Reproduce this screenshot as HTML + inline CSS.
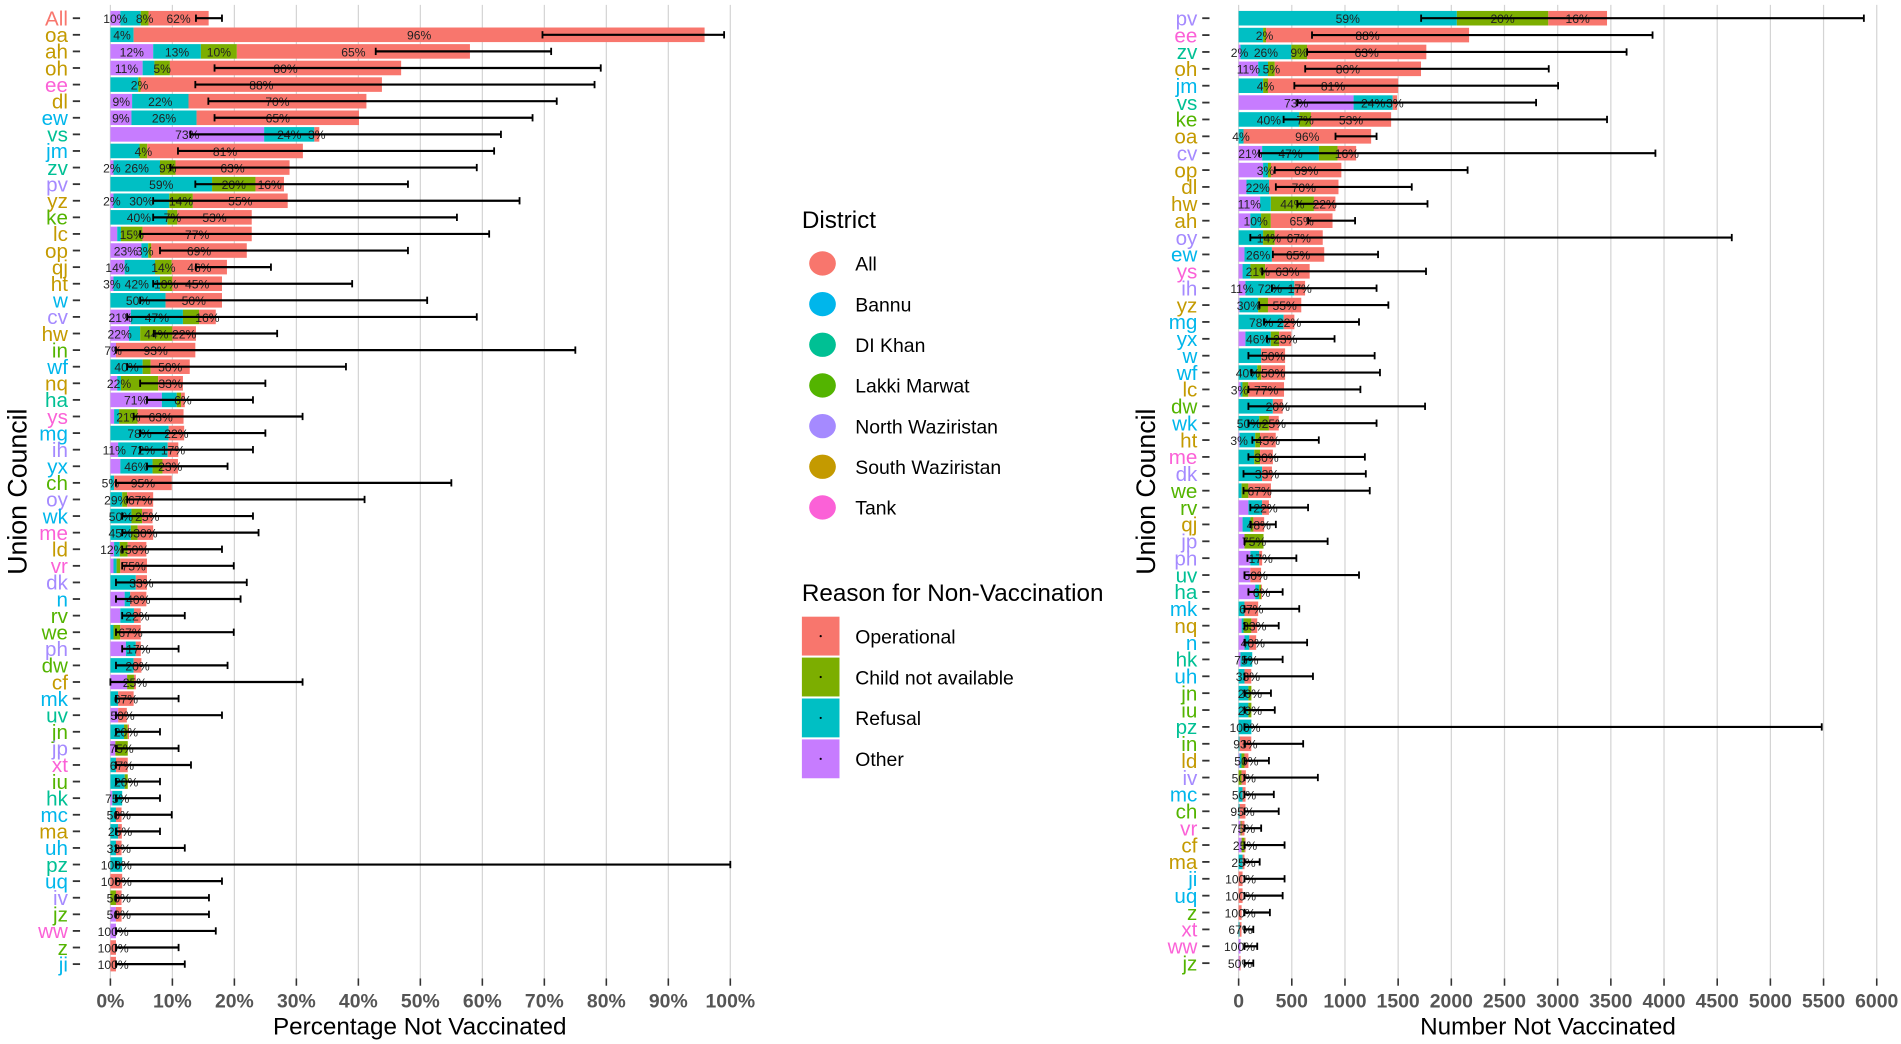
<!DOCTYPE html>
<html><head><meta charset="utf-8"><title>Non-Vaccination by Union Council</title>
<style>
html,body{margin:0;padding:0;background:#fff;}
svg{display:block;font-family:"Liberation Sans",sans-serif;}
</style></head>
<body>
<svg id="chart" width="1901" height="1044" viewBox="0 0 1567 860" preserveAspectRatio="none" xmlns="http://www.w3.org/2000/svg">
<g id="left"></g>
<g id="right"></g>
<g id="legend"></g>
</svg>
<script>
// ---------- LEFT PANEL DATA (percentage not vaccinated, segments in percentage points) ----------
const leftNames=["All","oa","ah","oh","ee","dl","ew","vs","jm","zv","pv","yz","ke","lc","op","qj","ht","w","cv","hw","in","wf","nq","ha","ys","mg","ih","yx","ch","oy","wk","me","ld","vr","dk","n","rv","we","ph","dw","cf","mk","uv","jn","jp","xt","iu","hk","mc","ma","uh","pz","uq","iv","jz","ww","z","ji"];
const leftDistrict=["A","S","S","S","T","S","B","D","B","D","N","S","L","S","S","S","S","B","N","S","L","B","S","D","T","B","N","B","L","N","B","T","S","T","N","B","L","L","N","L","S","B","D","L","N","T","L","D","B","S","B","D","B","N","L","T","L","B"];
const leftOther=[1.6,0,6.9,5.2,0,3.5,3.4,24.8,0,0.5,0,0.5,0,1.1,5.0,2.3,0.5,0,3.3,3.0,0.9,0,1.1,8.3,0.6,0,1.25,1.6,0,0,0,0,0.6,0.5,0,2.3,1.6,0,2.5,0,2.7,0,1.25,0,0.8,0,0,0.3,0,0,0,0,0,0,0.9,0.9,0,0];
const leftRefusal=[3.3,3.75,7.7,1.9,4.5,9.1,10.5,8.1,4.7,7.5,16.4,9.0,9.2,0.6,1.1,4.9,7.5,8.9,8.4,1.8,0,5.2,0.6,2.4,0.8,9.4,8.0,5.2,0.6,1.9,3.4,3.3,0.9,0.5,4.1,0.9,2.2,0.5,1.6,3.75,0,1.25,0,2.2,0,0.9,2.3,1.6,0.9,1.25,0.9,1.9,0,0,0,0,0,0];
const leftChild=[1.25,0,5.8,2.5,0.4,0,0,0,1.25,2.5,7.0,3.8,1.6,3.5,0.5,2.7,2.0,0,2.6,5.2,0,1.3,6.0,0.7,3.0,0,0,1.6,0,0.8,1.7,1.1,1.3,0.6,0,0,0,1.1,0,0,1.1,0,0,0.6,2.0,0,0.5,0,0,0,0,0,0,0.9,0,0,0,0];
const leftOper=[9.7,92.1,37.6,37.3,38.9,28.7,26.2,0.8,25.1,18.4,4.6,15.3,12.0,17.6,15.4,8.9,8.0,9.1,2.7,3.8,12.8,6.3,4.0,0.6,7.4,2.5,1.7,2.5,9.3,4.2,1.7,2.5,3.0,4.3,1.8,2.6,1.1,3.3,0.8,1.25,0.3,2.5,1.4,0.2,0,1.9,0,0,0.9,0.6,0.9,0,1.9,0.9,0.9,0,0.9,0.9];
const leftErrLo=[13.8,69.7,42.8,16.8,13.7,15.8,16.8,12.9,10.9,9.7,13.7,6.9,6.9,4.8,8.0,13.8,6.9,4.8,2.7,7.0,0.9,2.7,4.8,5.9,3.75,4.8,4.8,5.9,0.9,2.7,1.9,1.9,1.9,1.9,0.9,0.9,1.9,0.9,1.9,0.9,0,0.9,0.9,0.9,0.9,0.9,0.9,0.9,0.9,0.9,0.9,0.9,0.9,0.9,0.9,0.9,0.9,0.9];
const leftErrHi=[18.0,99.0,71.1,79.1,78.1,72.0,68.1,63.0,61.9,59.1,48.0,66.0,55.9,61.1,48.0,25.9,39.0,51.1,59.1,26.9,75.0,38.0,25.0,23.0,31.0,25.0,23.0,18.9,55.0,41.0,23.0,23.9,18.0,19.9,22.0,21.0,12.0,19.9,11.0,18.9,31.0,11.0,18.0,8.0,11.0,13.0,8.0,8.0,9.9,8.0,12.0,100,18.0,15.9,15.9,17.0,11.0,12.0];
const leftLabels=[["10%","","8%","62%"],["","4%","","96%"],["12%","13%","10%","65%"],["11%","","5%","80%"],["","","2%","88%"],["9%","22%","","70%"],["9%","26%","","65%"],["73%","24%","","3%"],["","","4%","81%"],["2%","26%","9%","63%"],["","59%","20%","16%"],["2%","30%","14%","55%"],["","40%","7%","53%"],["","","15%","77%"],["23%","3%","","69%"],["14%","","14%","46%"],["3%","42%","10%","45%"],["","50%","","50%"],["21%","47%","","16%"],["22%","","44%","22%"],["7%","","","93%"],["","40%","","50%"],["","22%","","33%"],["71%","","","6%"],["","","21%","63%"],["","78%","","22%"],["11%","72%","","17%"],["","46%","","23%"],["5%","","","95%"],["","29%","","67%"],["","50%","","25%"],["","45%","","30%"],["12%","","","50%"],["","","","75%"],["","","","33%"],["","","","40%"],["","","","22%"],["","","","67%"],["","","","17%"],["","","","20%"],["","","","25%"],["","","","67%"],["","","","50%"],["","","20%",""],["","","75%",""],["","","","67%"],["","","20%",""],["","75%","",""],["","","","50%"],["","","","25%"],["","","","33%"],["","100%","",""],["","","","100%"],["","","","50%"],["","","","50%"],["100%","","",""],["","","","100%"],["","","","100%"]];
const leftTicks=["0%","10%","20%","30%","40%","50%","60%","70%","80%","90%","100%"];
const leftTickVals=[0,10,20,30,40,50,60,70,80,90,100];

// ---------- RIGHT PANEL DATA (number not vaccinated) ----------
const rightNames=["pv","ee","zv","oh","jm","vs","ke","oa","cv","op","dl","hw","ah","oy","ew","ys","ih","yz","mg","yx","w","wf","lc","dw","wk","ht","me","dk","we","rv","qj","jp","ph","uv","ha","mk","nq","n","hk","uh","jn","iu","pz","in","ld","iv","mc","ch","vr","cf","ma","ji","uq","z","xt","ww","jz"];
const rightDistrict=["N","T","D","S","B","D","L","S","N","S","S","S","S","N","B","T","N","S","B","B","B","B","S","L","B","S","T","N","L","L","S","N","N","D","D","B","S","B","D","B","L","L","D","L","S","N","B","L","T","S","S","B","B","L","T","T","L"];
const rightOther=[0,0,18,184,0,1081,0,0,221,230,74,202,110,0,55,37,64,9,0,64,0,0,18,0,0,9,0,0,0,92,37,55,110,110,156,0,28,55,18,0,0,0,0,0,9,0,0,0,18,28,0,0,0,0,0,18,9];
const rightRefusal=[2052,230,478,92,230,368,570,46,534,46,212,101,101,230,258,74,460,175,423,239,212,175,18,322,193,147,147,221,28,129,74,0,83,0,37,55,18,46,110,55,92,92,120,9,18,0,37,9,0,0,37,0,0,0,9,0,0];
const rightChild=[860,28,147,64,46,0,110,0,175,28,0,405,92,110,0,138,0,92,0,78,0,37,55,0,92,46,55,0,64,0,28,179,0,0,18,0,74,0,0,0,28,28,0,0,28,28,0,0,9,28,0,0,0,0,0,0,0];
const rightOper=[552,1909,1122,1375,1224,41,754,1200,175,662,653,202,580,451,492,419,101,313,101,115,225,225,336,92,92,147,120,92,212,64,101,0,28,101,9,129,55,64,0,64,0,0,0,110,37,40,28,55,28,9,18,37,37,28,18,0,9];
const rightErrLo=[1716,690,644,626,524,552,423,911,193,340,350,552,653,110,322,221,313,193,239,267,92,120,92,92,92,129,92,46,46,110,110,55,83,55,92,55,55,55,55,55,55,55,55,55,55,55,55,55,55,55,55,55,55,55,55,55,55];
const rightErrHi=[5879,3892,3648,2916,3004,2797,3464,1297,3919,2153,1628,1776,1095,4637,1311,1762,1297,1408,1132,902,1279,1329,1145,1753,1297,754,1187,1196,1233,653,350,837,543,1132,414,570,377,644,414,699,304,340,5483,607,285,745,331,377,212,432,198,432,414,294,138,175,138];
const rightLabels=[["","59%","20%","16%"],["","","2%","88%"],["2%","26%","9%","63%"],["11%","","5%","80%"],["","","4%","81%"],["73%","24%","","3%"],["","40%","7%","53%"],["","4%","","96%"],["21%","47%","","16%"],["","3%","","69%"],["","22%","","70%"],["11%","","44%","22%"],["","10%","","65%"],["","","14%","67%"],["","26%","","65%"],["","","21%","63%"],["11%","72%","","17%"],["","30%","","55%"],["","78%","","22%"],["","46%","","23%"],["","","","50%"],["","40%","","50%"],["3%","","","77%"],["","","","20%"],["","50%","","25%"],["3%","","","45%"],["","","","30%"],["","","","33%"],["","","","67%"],["","","","22%"],["","","","48%"],["","","75%",""],["","","","17%"],["","","","50%"],["","","","6%"],["","","","67%"],["","","","33%"],["","","","40%"],["","75%","",""],["","","","33%"],["","","20%",""],["","","20%",""],["","100%","",""],["","","","93%"],["","","","50%"],["","","","50%"],["","","","50%"],["","","","95%"],["","","","75%"],["","","","25%"],["","","","25%"],["","","","100%"],["","","","100%"],["","","","100%"],["","","","67%"],["100%","","",""],["","","","50%"]];
const rightTicks=["0","500","1000","1500","2000","2500","3000","3500","4000","4500","5000","5500","6000"];
const rightTickVals=[0,500,1000,1500,2000,2500,3000,3500,4000,4500,5000,5500,6000];

const distColors={A:"#F8766D",B:"#00B6EB",D:"#00C094",L:"#53B400",N:"#A58AFF",S:"#C49A00",T:"#FB61D7"};
const reasonColors=["#C77CFF","#00BFC4","#7CAE00","#F8766D"]; // other, refusal, child, operational
const reasonNames=["other","refusal","child","operational"];
const NS="http://www.w3.org/2000/svg";
function mk(tag,attrs,parent){const e=document.createElementNS(NS,tag);for(const k in attrs)e.setAttribute(k,attrs[k]);if(parent)parent.appendChild(e);return e;}

function drawPanel(g,cfg){
  const xs=v=>cfg.x0+(v-cfg.min)/(cfg.max-cfg.min)*(cfg.x1-cfg.x0);
  const ys=i=>cfg.yTop+i*cfg.step;
  // gridlines
  cfg.tickVals.forEach((v,k)=>{
    const l=mk("line",{x1:xs(v),x2:xs(v),y1:cfg.plotTop,y2:cfg.plotBottom,stroke:"#d4d4d4","stroke-width":1},g);
    
    
    const t=mk("line",{x1:xs(v),x2:xs(v),y1:cfg.plotBottom,y2:cfg.plotBottom+6,stroke:"#333","stroke-width":1.3},g);
    
    
    const tx=mk("text",{x:xs(v),y:cfg.plotBottom+24,"text-anchor":"middle","font-size":16,"font-weight":"bold",fill:"#555"},g);
    tx.textContent=cfg.ticks[k];
    
    
  });
  cfg.names.forEach((nm,i)=>{
    const y=ys(i);
    const lab=mk("text",{x:cfg.labelX,y:y+6,"text-anchor":"end","font-size":17,fill:distColors[cfg.dist[i]]},g);
    lab.textContent=nm;
    
    
    const tk=mk("line",{x1:cfg.labelX+4,x2:cfg.labelX+10,y1:y,y2:y,stroke:"#333","stroke-width":1.5},g);
    
    
    const segs=[cfg.other[i],cfg.refusal[i],cfg.child[i],cfg.oper[i]];
    let acc=0;
    const pos=[];
    segs.forEach((s,k)=>{
      const xa=xs(acc),xb=xs(acc+s);
      pos.push((xa+xb)/2);
      if(s>0){
        const r=mk("rect",{x:xa,y:y-6,width:Math.max(0,xb-xa),height:12,fill:reasonColors[k]},g);
        
        
      }
      acc+=s;
    });
    // labels
    cfg.labels[i].forEach((t,k)=>{
      if(!t)return;
      const tt=mk("text",{x:pos[k],y:y+4,"text-anchor":"middle","font-size":10,fill:"#222"},g);
      tt.textContent=t;
      
      
    });
    // error bar
    const xl=xs(cfg.lo[i]),xh=xs(cfg.hi[i]);
    const eg=mk("g",{},g);
    
    
    mk("line",{x1:xl,x2:xh,y1:y,y2:y,stroke:"#000","stroke-width":1.8},eg);
    mk("line",{x1:xl,x2:xl,y1:y-3,y2:y+3,stroke:"#000","stroke-width":1.5},eg);
    mk("line",{x1:xh,x2:xh,y1:y-3,y2:y+3,stroke:"#000","stroke-width":1.5},eg);
  });
  const xt=mk("text",{x:cfg.titleX,y:852,"text-anchor":"middle","font-size":20,fill:"#000"},g);
  xt.textContent=cfg.xTitle;
  
  
  const yt=mk("text",{x:0,y:0,"text-anchor":"middle","font-size":22,fill:"#000",transform:"translate("+cfg.yTitleX+",405) rotate(-90)"},g);
  yt.textContent="Union Council";
  
  
}

drawPanel(document.getElementById("left"),{names:leftNames,dist:leftDistrict,other:leftOther,refusal:leftRefusal,child:leftChild,oper:leftOper,lo:leftErrLo,hi:leftErrHi,labels:leftLabels,ticks:leftTicks,tickVals:leftTickVals,min:0,max:100,x0:91,x1:602,yTop:15,step:13.67,plotTop:4,plotBottom:806,labelX:56,titleX:346,yTitleX:22,xTitle:"Percentage Not Vaccinated"});
drawPanel(document.getElementById("right"),{names:rightNames,dist:rightDistrict,other:rightOther,refusal:rightRefusal,child:rightChild,oper:rightOper,lo:rightErrLo,hi:rightErrHi,labels:rightLabels,ticks:rightTicks,tickVals:rightTickVals,min:0,max:6000,x0:1021,x1:1547,yTop:15,step:13.9,plotTop:4,plotBottom:806,labelX:987,titleX:1276,yTitleX:952,xTitle:"Number Not Vaccinated"});

// ---------- LEGEND ----------
const districtNames=["All","Bannu","DI Khan","Lakki Marwat","North Waziristan","South Waziristan","Tank"];
const districtKeys=["A","B","D","L","N","S","T"];
const reasonLegend=["Operational","Child not available","Refusal","Other"];
const reasonLegendColors=["#F8766D","#7CAE00","#00BFC4","#C77CFF"];
const lg=document.getElementById("legend");
const dt=mk("text",{x:661,y:188,"font-size":20,fill:"#000"},lg);
dt.textContent="District";


districtNames.forEach((n,i)=>{
  const y=217+i*33.5;
  const c=mk("ellipse",{cx:678,cy:y,rx:11,ry:10,fill:distColors[districtKeys[i]]},lg);
  
  
  const t=mk("text",{x:705,y:y+6,"font-size":16,fill:"#000"},lg);
  t.textContent=n;
  
  
});
const rt=mk("text",{x:661,y:495,"font-size":20,fill:"#000"},lg);
rt.textContent="Reason for Non-Vaccination";


reasonLegend.forEach((n,i)=>{
  const y=524+i*33.7;
  const r=mk("rect",{x:661,y:y-16,width:31,height:32,fill:reasonLegendColors[i]},lg);
  
  
  mk("circle",{cx:676.5,cy:y,r:0.9,fill:"#000"},lg);
  const t=mk("text",{x:705,y:y+6,"font-size":16,fill:"#000"},lg);
  t.textContent=n;
  
  
});
</script>
</body></html>
